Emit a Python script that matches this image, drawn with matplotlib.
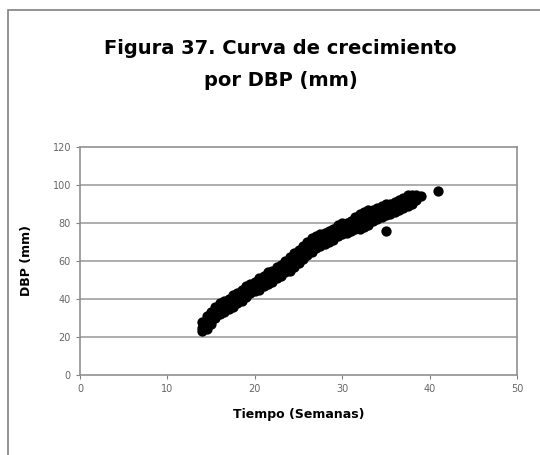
import matplotlib.pyplot as plt
from matplotlib.patches import Rectangle

# semanas y DBP (mm) (banda: valor bajo, medio, alto)
semanas = [14.0, 14.5, 15.0, 15.5, 16.0, 16.5, 17.0, 17.5, 18.0, 18.5,
           19.0, 19.5, 20.0, 20.5, 21.0, 21.5, 22.0, 22.5, 23.0, 23.5,
           24.0, 24.5, 25.0, 25.5, 26.0, 26.5, 27.0, 27.5, 28.0, 28.5,
           29.0, 29.5, 30.0, 30.5, 31.0, 31.5, 32.0, 32.5, 33.0, 33.5,
           34.0, 34.5, 35.0, 35.5, 36.0, 36.5, 37.0, 37.5, 38.0, 38.5]
dbp_bajo = [23, 24, 27, 30, 32, 33, 35, 36, 38, 39,
            41, 43, 44, 45, 47, 48, 49, 51, 52, 54,
            55, 57, 59, 61, 63, 65, 67, 68, 69, 70,
            71, 73, 74, 75, 76, 77, 77, 78, 79, 81,
            82, 83, 84, 85, 86, 87, 88, 89, 90, 92]
dbp_medio = [25, 28, 30, 33, 35, 36, 38, 39, 41, 42,
             44, 46, 47, 48, 50, 51, 52, 54, 55, 57,
             59, 61, 62, 65, 67, 69, 70, 71, 72, 73,
             74, 76, 77, 78, 79, 80, 81, 82, 83, 84,
             85, 86, 87, 88, 89, 90, 91, 92, 93, 94]
dbp_alto = [28, 31, 33, 36, 38, 39, 40, 42, 43, 45,
            47, 48, 49, 51, 52, 54, 55, 57, 58, 60,
            62, 64, 66, 68, 70, 72, 73, 74, 75, 76,
            77, 79, 80, 80, 81, 83, 85, 86, 87, 87,
            88, 89, 90, 90, 91, 92, 93, 95, 95, 95]
# puntos sueltos
extra_semanas = [35, 39, 41]
extra_dbp = [76, 94, 97]

xticks = [0, 10, 20, 30, 40, 50]
yticks = [0, 20, 40, 60, 80, 100, 120]

x = semanas * 3 + extra_semanas
y = dbp_bajo + dbp_medio + dbp_alto + extra_dbp

plt.rcParams['font.family'] = ['DejaVu Sans']

fig = plt.figure(figsize=(5.4, 4.55), dpi=100)
fig.patches.append(Rectangle((8 / 540, -0.1), 1.2, 1 - 10 / 455 + 0.1,
                             transform=fig.transFigure, fill=False,
                             edgecolor='#808080', linewidth=1.2))

ax = fig.add_axes([80 / 540, 1 - 375 / 455, 437 / 540, 228 / 455])
ax.scatter(x, y, s=55, color='black', linewidths=0, zorder=3)

ax.set_xlim(0, 50)
ax.set_ylim(0, 120)
ax.set_xticks(xticks)
ax.set_yticks(yticks)
ax.tick_params(labelsize=7, labelcolor='#666666', color='#808080', length=3)
for v in yticks[1:-1]:
    ax.axhline(v, color='#a0a0a0', linewidth=1.2, zorder=1)
for s in ax.spines.values():
    s.set_color('#909090')
    s.set_linewidth(1.2)

ax.set_xlabel('Tiempo (Semanas)', fontsize=9, fontweight='bold', labelpad=10)
ax.set_ylabel('DBP (mm)', fontsize=9, fontweight='bold', labelpad=14)

fig.text(0.52, 1 - 48 / 455, 'Figura 37. Curva de crecimiento', ha='center', va='center',
         fontsize=14, fontweight='bold')
fig.text(0.52, 1 - 80 / 455, 'por DBP (mm)', ha='center', va='center',
         fontsize=14, fontweight='bold')

fig.savefig('out.png', dpi=100)
